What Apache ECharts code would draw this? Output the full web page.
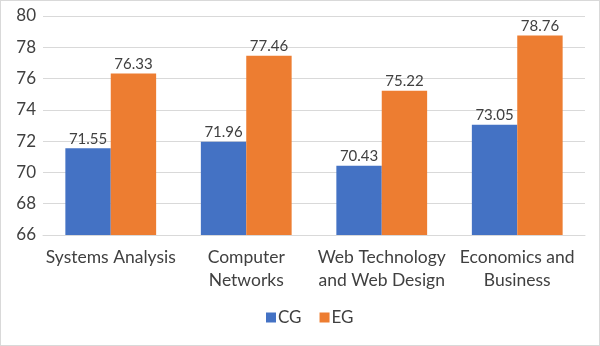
<!DOCTYPE html>
<html>
<head>
<meta charset="utf-8">
<script src="https://cdn.jsdelivr.net/npm/echarts@6/dist/echarts.min.js"></script>
<style>
  html, body { margin: 0; padding: 0; background: #fff; }
  #chart { width: 598px; height: 344px; border: 1px solid #d9d9d9; }
</style>
</head>
<body>
<div id="chart"></div>
<script>
var courses = ['Systems Analysis', 'Computer\nNetworks', 'Web Technology\nand Web Design', 'Economics and\nBusiness'];
var cgScores = [71.55, 71.96, 70.43, 73.05];
var egScores = [76.33, 77.46, 75.22, 78.76];

var myChart = echarts.init(document.getElementById('chart'));

var barLabel = {
  show: true,
  position: 'top',
  distance: 2,
  color: '#404040',
  fontSize: 15,
  fontFamily: 'Lato',
  formatter: function (p) { return p.value.toFixed(2); }
};

myChart.setOption({
  animation: false,
  textStyle: { fontFamily: 'Lato' },
  grid: {
    left: 42,
    right: 14,
    top: 15,
    bottom: 110
  },
  legend: {
    bottom: 14,
    left: 260,
    itemWidth: 10,
    itemHeight: 10,
    itemGap: 18,
    icon: 'rect',
    textStyle: { fontSize: 17, color: '#404040', padding: [0, 0, 0, -3] },
    data: ['CG', 'EG']
  },
  xAxis: {
    type: 'category',
    data: courses,
    axisLine: { lineStyle: { color: '#d9d9d9' } },
    axisTick: { show: false },
    axisLabel: {
      interval: 0,
      color: '#404040',
      fontSize: 17.5,
      lineHeight: 23,
      margin: 11
    }
  },
  yAxis: {
    type: 'value',
    min: 66,
    max: 80,
    interval: 2,
    axisLine: { show: false },
    axisTick: { show: false },
    splitLine: { lineStyle: { color: '#d9d9d9' } },
    axisLabel: { color: '#404040', fontSize: 17, margin: 7 }
  },
  series: [
    {
      name: 'CG',
      type: 'bar',
      barGap: '0%',
      barCategoryGap: '33%',
      itemStyle: { color: '#4472C4' },
      label: barLabel,
      data: cgScores
    },
    {
      name: 'EG',
      type: 'bar',
      itemStyle: { color: '#ED7D31' },
      label: barLabel,
      data: egScores
    }
  ]
});
</script>
</body>
</html>
